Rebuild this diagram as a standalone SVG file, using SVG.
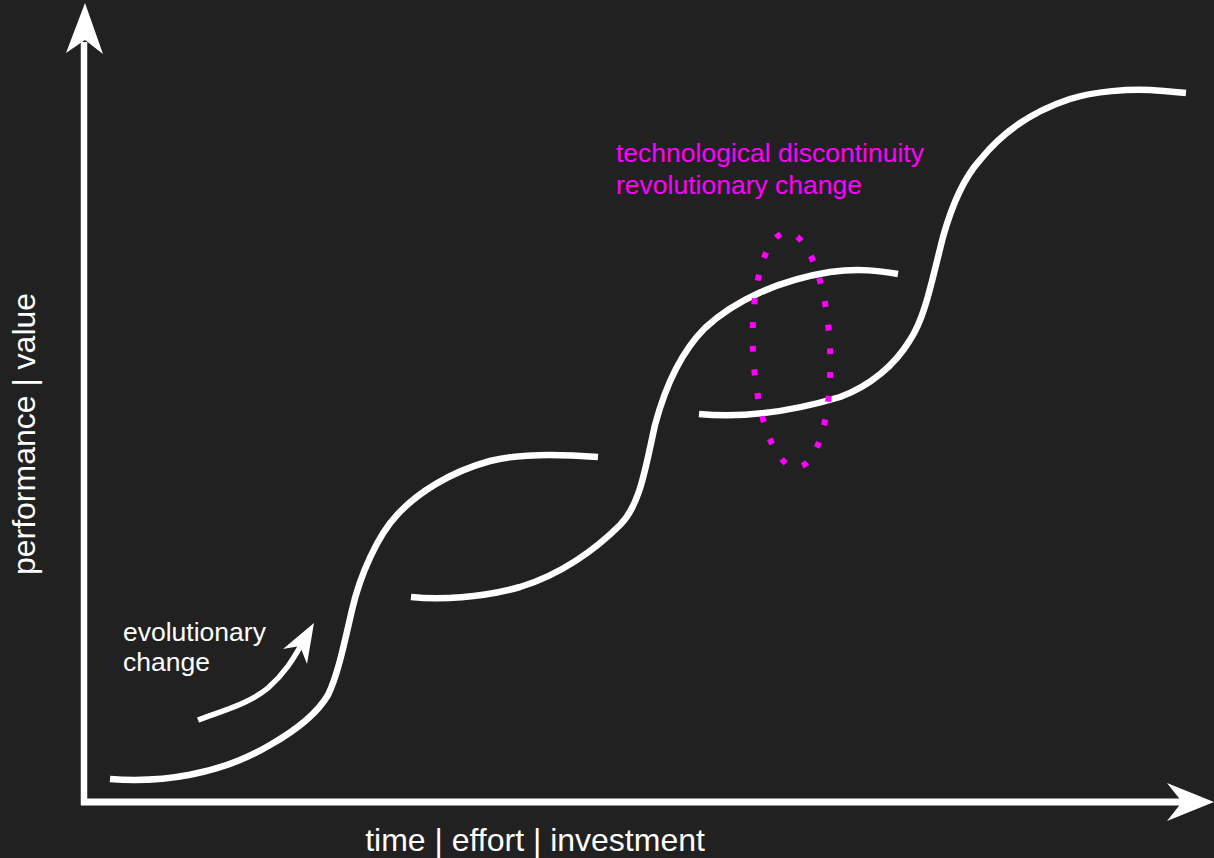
<svg xmlns="http://www.w3.org/2000/svg" width="1214" height="858" viewBox="0 0 1214 858">
<style>
.bg{fill:#212121}
.axis{stroke:#fff;fill:none;stroke-linecap:butt}
.curve{stroke:#fff;fill:none;stroke-width:6.5;stroke-linecap:butt;stroke-linejoin:round}
.head{fill:#fff}
.lbl{font-family:"Liberation Sans",Arial,sans-serif;fill:#fff}
.mag{font-family:"Liberation Sans",Arial,sans-serif;fill:#ff00ff}
.dots{fill:none;stroke:#ff00ff;stroke-width:6;stroke-dasharray:0.25 0.75}
</style>
<rect class="bg" x="0" y="0" width="1214" height="858"/>
<g id="connectors">
  <g id="y-axis">
    <line class="axis" x1="84" y1="42" x2="84" y2="805" stroke-width="6.5"/>
    <polygon class="head" points="85,3 66,53 85,40 103,54"/>
  </g>
  <g id="x-axis">
    <line class="axis" x1="81" y1="802" x2="1184" y2="802" stroke-width="7"/>
    <polygon class="head" points="1214,802 1167,783 1182,802 1167,821"/>
  </g>
  <g id="evolutionary-arrow">
    <path class="curve" stroke-width="5.5" style="stroke-width:5.5" d="M198,720 C225,710 250,703 268,688 C284,674 293,660 304,640"/>
    <polygon class="head" points="314,623 283,649 300,646 307,664"/>
  </g>
</g>
<g id="curve-1">
  <path class="curve" d="M110,779 C160,783 220,775 270,745 C300,728 318,712 328,695 C338,675 345,640 352,610 C360,575 378,535 397,515 C417,493 450,472 490,461 C520,453 560,454 598,457"/>
</g>
<g id="curve-2">
  <path class="curve" d="M411,597 C440,600 480,598 520,587 C560,575 595,550 620,525 C640,505 645,470 655,425 C663,395 678,355 705,328 C735,300 780,280 830,272 C860,268 880,271 898,274"/>
</g>
<g id="curve-3">
  <path class="curve" d="M699,414 C740,418 790,412 840,397 C870,386 895,365 910,340 C925,318 932,280 943,237 C950,212 962,180 980,160 C1000,135 1030,112 1070,99 C1095,91 1130,89 1150,90 C1165,91 1175,92 1186,93"/>
</g>
<g id="discontinuity">
  <ellipse class="dots" cx="791.5" cy="350" rx="38.5" ry="117.5" pathLength="22" transform="rotate(-2.5 791.5 350)"/>
  <text class="mag" font-size="26.5"><tspan x="616" y="162">technological discontinuity</tspan><tspan x="616" y="194">revolutionary change</tspan></text>
</g>
<g id="evolutionary-label">
  <text class="lbl" font-size="26.5"><tspan x="123" y="641">evolutionary</tspan><tspan x="123" y="671">change</tspan></text>
</g>
<g id="x-label">
  <text class="lbl" font-size="32" x="535" y="851" text-anchor="middle">time | effort | investment</text>
</g>
<g id="y-label">
  <text class="lbl" font-size="32" x="0" y="0" text-anchor="middle" transform="translate(35 434) rotate(-90)">performance | value</text>
</g>
</svg>
